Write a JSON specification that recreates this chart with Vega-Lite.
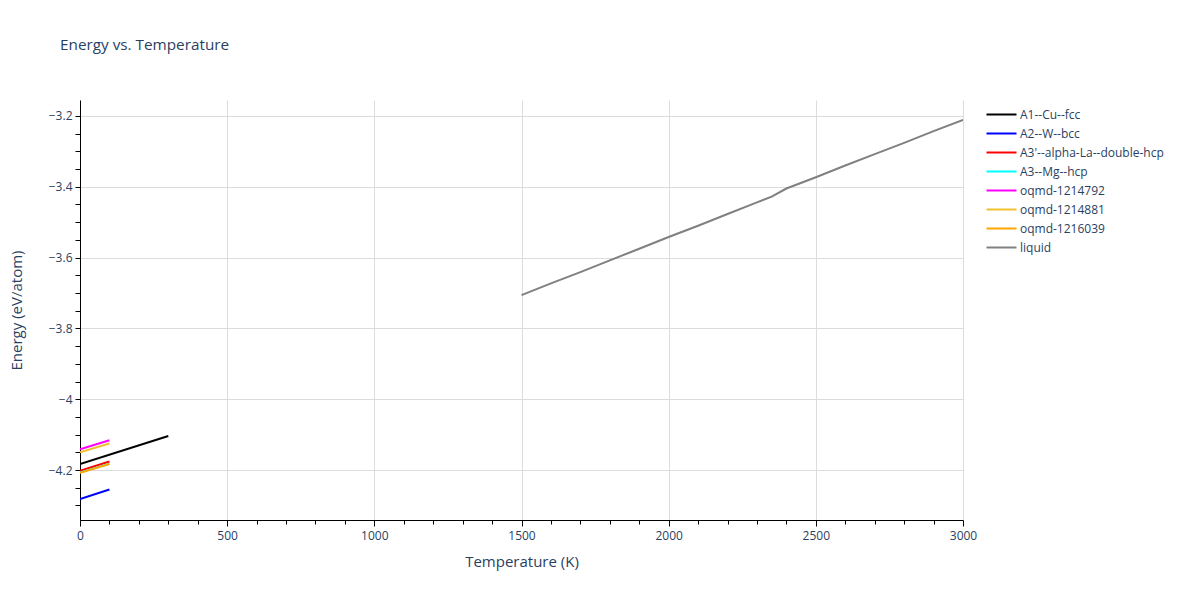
{
  "$schema": "https://vega.github.io/schema/vega-lite/v6.json",
  "autosize": "none",
  "width": 883,
  "height": 420,
  "padding": {"left": 80, "top": 100, "right": 237, "bottom": 80},
  "background": "white",
  "title": {
    "text": "Energy vs. Temperature",
    "anchor": "start",
    "frame": "group",
    "dx": -20,
    "offset": 47,
    "fontSize": 15.3,
    "fontWeight": "normal",
    "font": "Open Sans",
    "color": "#2a3f5f"
  },
  "data": {
    "values": [
      {"phase": "A1--Cu--fcc", "T": 0, "E": -4.183},
      {"phase": "A1--Cu--fcc", "T": 300, "E": -4.104},
      {"phase": "A2--W--bcc", "T": 0, "E": -4.282},
      {"phase": "A2--W--bcc", "T": 100, "E": -4.255},
      {"phase": "A3'--alpha-La--double-hcp", "T": 0, "E": -4.202},
      {"phase": "A3'--alpha-La--double-hcp", "T": 100, "E": -4.176},
      {"phase": "A3--Mg--hcp", "T": 0, "E": -4.207},
      {"phase": "A3--Mg--hcp", "T": 100, "E": -4.182},
      {"phase": "oqmd-1214792", "T": 0, "E": -4.141},
      {"phase": "oqmd-1214792", "T": 100, "E": -4.116},
      {"phase": "oqmd-1214881", "T": 0, "E": -4.150},
      {"phase": "oqmd-1214881", "T": 100, "E": -4.125},
      {"phase": "oqmd-1216039", "T": 0, "E": -4.208},
      {"phase": "oqmd-1216039", "T": 100, "E": -4.183},
      {"phase": "liquid", "T": 1500, "E": -3.706},
      {"phase": "liquid", "T": 1600, "E": -3.673},
      {"phase": "liquid", "T": 1700, "E": -3.641},
      {"phase": "liquid", "T": 1800, "E": -3.608},
      {"phase": "liquid", "T": 1900, "E": -3.575},
      {"phase": "liquid", "T": 2000, "E": -3.542},
      {"phase": "liquid", "T": 2100, "E": -3.510},
      {"phase": "liquid", "T": 2200, "E": -3.477},
      {"phase": "liquid", "T": 2300, "E": -3.444},
      {"phase": "liquid", "T": 2350, "E": -3.428},
      {"phase": "liquid", "T": 2400, "E": -3.405},
      {"phase": "liquid", "T": 2500, "E": -3.373},
      {"phase": "liquid", "T": 2600, "E": -3.340},
      {"phase": "liquid", "T": 2700, "E": -3.308},
      {"phase": "liquid", "T": 2800, "E": -3.276},
      {"phase": "liquid", "T": 2900, "E": -3.243},
      {"phase": "liquid", "T": 3000, "E": -3.211}
    ]
  },
  "mark": {"type": "line", "strokeWidth": 2, "clip": true},
  "encoding": {
    "x": {
      "field": "T",
      "type": "quantitative",
      "scale": {"domain": [0, 3000], "nice": false, "zero": false},
      "axis": {
        "title": "Temperature (K)",
        "values": [0, 100, 200, 300, 400, 500, 600, 700, 800, 900, 1000, 1100, 1200, 1300, 1400, 1500, 1600, 1700, 1800, 1900, 2000, 2100, 2200, 2300, 2400, 2500, 2600, 2700, 2800, 2900, 3000],
        "labelExpr": "datum.value % 500 === 0 ? format(datum.value, 'd') : ''",
        "labelOverlap": false,
        "labelFlush": false,
        "gridOpacity": {"condition": {"test": "datum.value % 500 !== 0", "value": 0}, "value": 1},
        "tickSize": {"condition": {"test": "datum.value % 500 !== 0", "value": 4}, "value": 6},
        "labelPadding": 4,
        "titlePadding": 13,
        "titleFontSize": 15
      }
    },
    "y": {
      "field": "E",
      "type": "quantitative",
      "scale": {"domain": [-4.341, -3.155], "nice": false, "zero": false},
      "axis": {
        "title": "Energy (eV/atom)",
        "values": [-4.3, -4.25, -4.2, -4.15, -4.1, -4.05, -4.0, -3.95, -3.9, -3.85, -3.8, -3.75, -3.7, -3.65, -3.6, -3.55, -3.5, -3.45, -3.4, -3.35, -3.3, -3.25, -3.2],
        "labelExpr": "abs(datum.value * 5 - round(datum.value * 5)) < 0.001 ? format(datum.value, '.1~f') : ''",
        "labelOverlap": false,
        "labelFlush": false,
        "gridOpacity": {"condition": {"test": "abs(datum.value * 5 - round(datum.value * 5)) > 0.001", "value": 0}, "value": 1},
        "tickSize": 5,
        "labelPadding": 3,
        "titlePadding": 24,
        "titleFontSize": 15
      }
    },
    "color": {
      "field": "phase",
      "type": "nominal",
      "sort": null,
      "scale": {
        "domain": ["A1--Cu--fcc", "A2--W--bcc", "A3'--alpha-La--double-hcp", "A3--Mg--hcp", "oqmd-1214792", "oqmd-1214881", "oqmd-1216039", "liquid"],
        "range": ["#000000", "#0000ff", "#ff0000", "#00ffff", "#ff00ff", "#f0c030", "#ffa500", "#808080"]
      },
      "legend": {
        "title": null,
        "orient": "none",
        "legendX": 913,
        "legendY": 6,
        "symbolType": "M-2,0H2",
        "symbolSize": 225,
        "symbolStrokeWidth": 2,
        "labelFontSize": 12,
        "labelColor": "#2a3f5f",
        "labelFont": "Open Sans",
        "rowPadding": 4,
        "labelOffset": 10
      }
    }
  },
  "config": {
    "view": {"stroke": null},
    "font": "Open Sans",
    "axis": {
      "domainColor": "#000000",
      "tickColor": "#000000",
      "gridColor": "#dcdcdc",
      "labelColor": "#2a3f5f",
      "labelFontSize": 12,
      "labelFont": "Open Sans",
      "titleColor": "#2a3f5f",
      "titleFontSize": 14,
      "titleFont": "Open Sans",
      "titleFontWeight": "normal"
    }
  }
}
